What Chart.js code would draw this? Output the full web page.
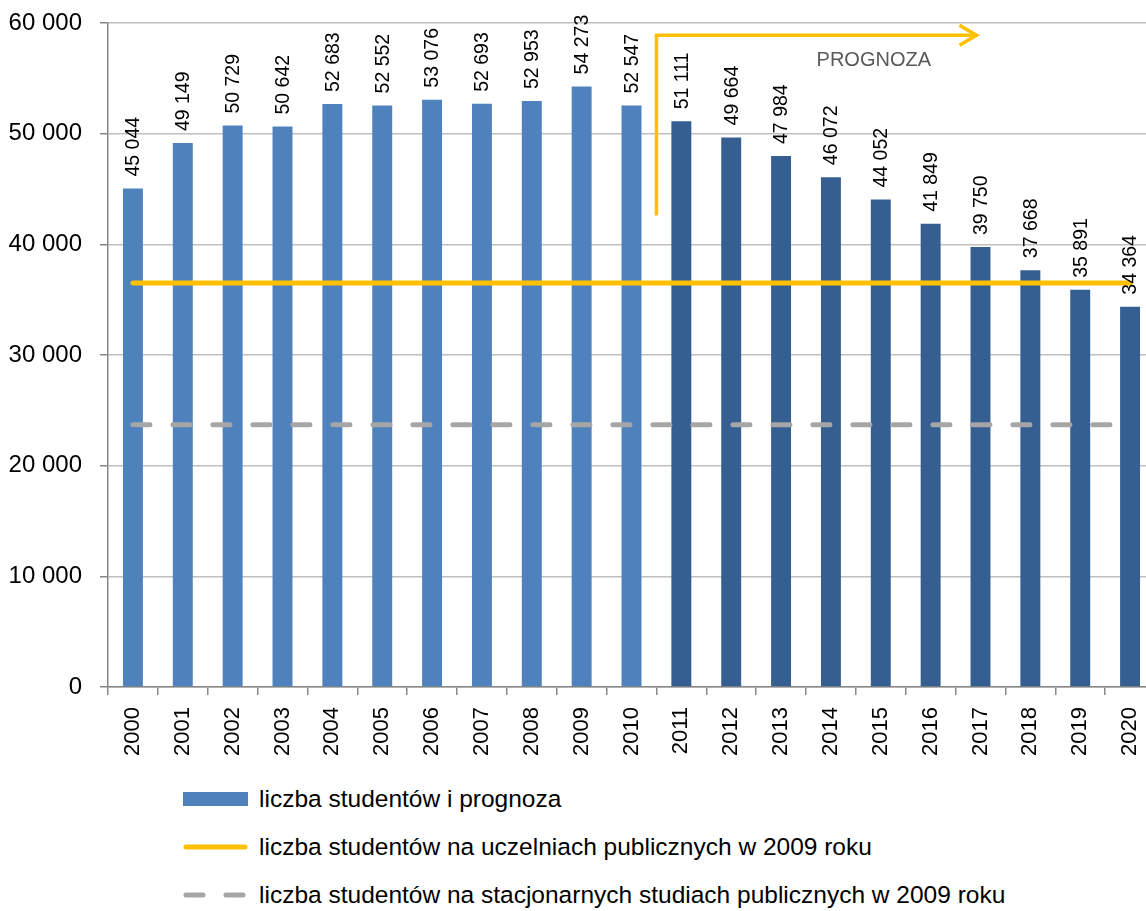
<!DOCTYPE html>
<html>
<head>
<meta charset="utf-8">
<script src="https://cdn.jsdelivr.net/npm/chart.js@4"></script>
<style>
  html, body { margin: 0; padding: 0; background: #fff; overflow: hidden; }
  #wrap { position: absolute; left: 0; top: 0; width: 1155px; height: 775px; }
  .leg { position: absolute; left: 183px; font-family: "Liberation Sans", Arial, sans-serif; font-size: 24.5px; color: #000; display: flex; align-items: center; }
  .leg svg { margin-right: 10px; }
</style>
</head>
<body>
<div id="wrap"><canvas id="STUDENTS_CHART"></canvas></div>

<div class="leg" style="top:785px">
  <svg width="66" height="28"><rect x="0" y="7" width="65" height="14" fill="#4F81BD"/></svg>
  <span>liczba studentów i prognoza</span>
</div>
<div class="leg" style="top:833px">
  <svg width="66" height="28"><line x1="3" y1="14" x2="62" y2="14" stroke="#FFC000" stroke-width="5" stroke-linecap="round"/></svg>
  <span>liczba studentów na uczelniach publicznych w 2009 roku</span>
</div>
<div class="leg" style="top:881px">
  <svg width="66" height="28"><line x1="3" y1="14" x2="62" y2="14" stroke="#A6A6A6" stroke-width="5" stroke-linecap="round" stroke-dasharray="17 23"/></svg>
  <span>liczba studentów na stacjonarnych studiach publicznych w 2009 roku</span>
</div>

<script>
// data
const years = ['2000', '2001', '2002', '2003', '2004', '2005', '2006', '2007', '2008', '2009', '2010',
    '2011', '2012', '2013', '2014', '2015', '2016', '2017', '2018', '2019', '2020'];
const students = [45044, 49149, 50729, 50642, 52683, 52552, 53076, 52693, 52953, 54273, 52547,
    51111, 49664, 47984, 46072, 44052, 41849, 39750, 37668, 35891, 34364];
const publicStudents2009 = 36500;
const fullTimePublic2009 = 23700;
const firstForecastIndex = 11;
const yTicks = [0, 10000, 20000, 30000, 40000, 50000, 60000];

function fmt(v) {
    return String(v).replace(/\B(?=(\d{3})+(?!\d))/g, ' ');
}

// vertical value labels above the bars
const barLabels = {
    id: 'barLabels',
    afterDatasetsDraw(chart) {
        const ctx = chart.ctx;
        const meta = chart.getDatasetMeta(2);
        ctx.save();
        ctx.font = '19.5px "Liberation Sans", Arial, sans-serif';
        ctx.fillStyle = '#000';
        ctx.textAlign = 'left';
        ctx.textBaseline = 'middle';
        meta.data.forEach((bar, i) => {
            ctx.save();
            ctx.translate(bar.x + 1, bar.y - 12);
            ctx.rotate(-Math.PI / 2);
            ctx.fillText(fmt(students[i]), 0, 0);
            ctx.restore();
        });
        ctx.restore();
    }
};

// the "PROGNOZA" arrow
const forecastArrow = {
    id: 'forecastArrow',
    afterDatasetsDraw(chart) {
        const ctx = chart.ctx;
        const x = chart.scales.x;
        const y = chart.scales.y;
        const x0 = (x.getPixelForValue(firstForecastIndex - 1) + x.getPixelForValue(firstForecastIndex)) / 2;
        const x1 = x.getPixelForValue(17) - 4;
        const yBottom = y.getPixelForValue(42600);
        const yTop = y.getPixelForValue(58900);
        ctx.save();
        ctx.strokeStyle = '#FFC000';
        ctx.lineWidth = 3.5;
        ctx.beginPath();
        ctx.moveTo(x0, yBottom);
        ctx.lineTo(x0, yTop);
        ctx.lineTo(x1, yTop);
        ctx.stroke();
        ctx.beginPath();
        ctx.moveTo(x1 - 17, yTop - 10);
        ctx.lineTo(x1, yTop);
        ctx.lineTo(x1 - 17, yTop + 10);
        ctx.stroke();
        ctx.font = '20px "Liberation Sans", Arial, sans-serif';
        ctx.fillStyle = '#595959';
        ctx.textAlign = 'center';
        ctx.textBaseline = 'middle';
        ctx.fillText('PROGNOZA', x.getPixelForValue(15) - 7, y.getPixelForValue(56650));
        ctx.restore();
    }
};

const studentsChart = new Chart(document.getElementById('STUDENTS_CHART').getContext('2d'), {
    data: {
        labels: years,
        datasets: [{
            type: 'line',
            label: 'liczba studentów na uczelniach publicznych w 2009 roku',
            data: years.map(() => publicStudents2009),
            borderColor: '#FFC000',
            borderWidth: 5,
            borderCapStyle: 'round',
            pointRadius: 0,
            order: 1
        }, {
            type: 'line',
            label: 'liczba studentów na stacjonarnych studiach publicznych w 2009 roku',
            data: years.map(() => fullTimePublic2009),
            borderColor: '#A6A6A6',
            borderWidth: 5,
            borderCapStyle: 'round',
            borderDash: [17, 23],
            pointRadius: 0,
            order: 1
        }, {
            type: 'bar',
            label: 'liczba studentów i prognoza',
            data: students,
            backgroundColor: students.map((v, i) => i < firstForecastIndex ? '#4F81BD' : '#365F91'),
            barPercentage: 0.4,
            categoryPercentage: 1,
            order: 2
        }]
    },
    options: {
        responsive: true,
        maintainAspectRatio: false,
        animation: false,
        layout: { padding: { top: 23, right: 0, left: 0, bottom: 0 } },
        plugins: {
            legend: { display: false },
            tooltip: { enabled: false }
        },
        scales: {
            x: {
                offset: true,
                grid: { offset: true, drawOnChartArea: false, tickLength: 8, color: '#868686', lineWidth: 1.5 },
                border: { color: '#868686', width: 1.5 },
                ticks: {
                    minRotation: 90,
                    maxRotation: 90,
                    autoSkip: false,
                    padding: 12,
                    color: '#000',
                    font: { family: '"Liberation Sans", Arial, sans-serif', size: 22 }
                },
                afterFit(scale) {
                    scale.height = 88;
                    scale.paddingLeft = 0;
                    scale.paddingRight = 0;
                }
            },
            y: {
                min: 0,
                max: 60000,
                afterBuildTicks(scale) { scale.ticks = yTicks.map(v => ({ value: v })); },
                grid: { color: '#BFBFBF', lineWidth: 1.5, tickLength: 8, tickColor: '#868686' },
                border: { color: '#868686', width: 1.5 },
                ticks: {
                    padding: 18,
                    color: '#000',
                    font: { family: '"Liberation Sans", Arial, sans-serif', size: 24 },
                    callback: v => fmt(v)
                },
                afterFit(scale) {
                    scale.width = 108;
                    scale.paddingTop = 0;
                    scale.paddingBottom = 0;
                }
            }
        }
    },
    plugins: [barLabels, forecastArrow]
});
</script>
</body>
</html>
